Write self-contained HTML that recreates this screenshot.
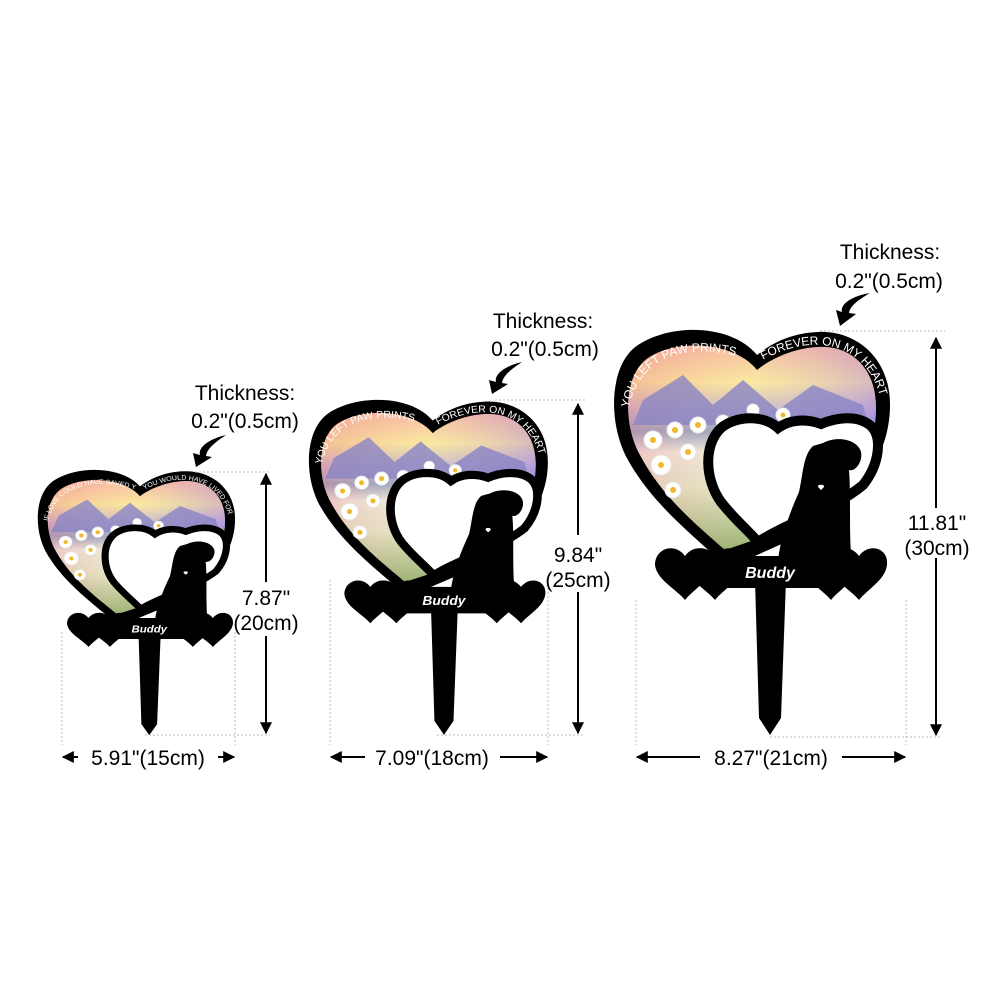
<!DOCTYPE html>
<html><head><meta charset="utf-8"><style>
html,body{margin:0;padding:0;background:#fff}
svg{display:block}
text{font-family:"Liberation Sans",sans-serif}
</style></head><body>
<svg width="1000" height="1000" viewBox="0 0 1000 1000" xmlns="http://www.w3.org/2000/svg">
<defs>
<linearGradient id="sky" x1="0" y1="0" x2="0" y2="1">
<stop offset="0" stop-color="#f4a7a0"/>
<stop offset="0.18" stop-color="#f8e59a"/>
<stop offset="0.32" stop-color="#b8a9d8"/>
<stop offset="0.42" stop-color="#6f8fcf"/>
<stop offset="0.52" stop-color="#e9f1f6"/>
<stop offset="0.7" stop-color="#d9e8d2"/>
<stop offset="1" stop-color="#6f9a5a"/>
</linearGradient>
<linearGradient id="skyh" x1="0" y1="0" x2="1" y2="0">
<stop offset="0" stop-color="#f29a8f" stop-opacity="0.5"/>
<stop offset="0.5" stop-color="#fff3b0" stop-opacity="0.3"/>
<stop offset="1" stop-color="#b48fe0" stop-opacity="0.5"/>
</linearGradient>
<marker id="ah" viewBox="0 0 10 10" refX="9" refY="5" markerWidth="6" markerHeight="6" orient="auto-start-reverse"><path d="M0,0 L10,5 L0,10 Z" fill="#000"/></marker>
<g id="stake">
<path d="M144,25 C120,-5 60,-8 25,15 C-5,35 -5,95 15,130 C40,175 80,205 115,238 L200,200 C240,170 277,130 277,75 C277,25 240,0 205,2 C180,3 160,12 144,25 Z" fill="#000"/>
<path d="M144,40 C122,12 65,8 35,28 C10,45 10,95 27,125 C48,165 80,192 112,220 L200,190 C235,160 263,125 263,78 C263,35 235,15 205,17 C183,18 160,27 144,40 Z" fill="url(#sky)"/>
<path d="M144,40 C122,12 65,8 35,28 C10,45 10,95 27,125 C48,165 80,192 112,220 L200,190 C235,160 263,125 263,78 C263,35 235,15 205,17 C183,18 160,27 144,40 Z" fill="url(#skyh)"/>
<path d="M30,70 L70,45 L100,75 L130,50 L165,80 L200,55 L250,75 L255,95 L20,95 Z" fill="#8a84c4" opacity="0.8"/>
<g fill="#fff" stroke="#e8e8e8" stroke-width="1">
<circle cx="40" cy="110" r="9"/><circle cx="62" cy="100" r="8"/><circle cx="85" cy="95" r="8"/><circle cx="110" cy="92" r="7"/><circle cx="48" cy="135" r="10"/><circle cx="75" cy="122" r="8"/><circle cx="60" cy="160" r="8"/><circle cx="140" cy="80" r="6"/><circle cx="170" cy="85" r="7"/><circle cx="100" cy="115" r="6"/>
</g>
<g fill="#f0b92c"><circle cx="40" cy="110" r="3"/><circle cx="62" cy="100" r="3"/><circle cx="85" cy="95" r="3"/><circle cx="48" cy="135" r="3"/><circle cx="75" cy="122" r="3"/><circle cx="60" cy="160" r="3"/><circle cx="170" cy="85" r="2.5"/></g>
<path d="M165,98 C150,84 122,86 108,98 C90,115 92,150 108,172 C122,190 135,200 145,212 C175,192 220,180 250,155 C266,135 270,108 258,96 C244,84 222,88 208,94 C192,88 176,90 165,98 Z" fill="#fff" stroke="#000" stroke-width="10"/>
<path d="M210,113 C225,105 245,110 248,122 C250,132 242,142 236,140 C238,165 236,195 238,225 L165,230 C168,205 178,180 186,162 C190,145 190,125 200,116 Z" fill="#000"/>
<path d="M208,160 l-3,-3 a2,2 0 0 1 3,-2 a2,2 0 0 1 3,2 Z" fill="#fff"/>
<g fill="#000">
<path d="M42,235 C42,218 62,212 72,226 C82,212 102,218 100,235 C98,250 82,258 72,270 C62,258 44,250 42,235 Z"/>
<path d="M72,235 C72,218 92,212 102,226 C112,212 132,218 130,235 C128,250 112,258 102,270 C92,258 74,250 72,235 Z"/>
<path d="M100,226 L230,226 L230,258 L100,258 Z"/>
<path d="M188,235 C188,218 208,212 218,226 C228,212 248,218 246,235 C244,250 228,258 218,270 C208,258 190,250 188,235 Z"/>
<path d="M216,235 C216,218 236,212 246,226 C256,212 276,218 274,235 C272,250 256,258 246,270 C236,258 218,250 216,235 Z"/>
<path d="M142,250 L173,250 L168,388 L157,405 L146,388 Z"/>
</g>
<text x="157" y="248" text-anchor="middle" fill="#fff" font-size="16" font-weight="bold" font-style="italic">Buddy</text>
</g>
<path id="tpl" d="M16,78 C25,30 70,8 138,30"/>
<path id="tpr" d="M150,30 C205,0 255,15 268,70"/>
</defs>

<g transform="translate(613,330)">
<use href="#stake"/>
<text fill="#fff" font-family="Liberation Serif,serif" font-size="12"><textPath href="#tpl">YOU LEFT PAW PRINTS</textPath></text>
<text fill="#fff" font-family="Liberation Serif,serif" font-size="12"><textPath href="#tpr">FOREVER ON MY HEART</textPath></text>
</g>
<g transform="translate(308,400) scale(0.866,0.827)">
<use href="#stake"/>
<text fill="#fff" font-family="Liberation Serif,serif" font-size="12"><textPath href="#tpl">YOU LEFT PAW PRINTS</textPath></text>
<text fill="#fff" font-family="Liberation Serif,serif" font-size="12"><textPath href="#tpr">FOREVER ON MY HEART</textPath></text>
</g>
<g transform="translate(37,470) scale(0.715,0.655)">
<use href="#stake"/>
<text fill="#fff" font-family="Liberation Serif,serif" font-size="10"><textPath href="#tpl">IF LOVE COULD HAVE SAVED YOU</textPath></text>
<text fill="#fff" font-family="Liberation Serif,serif" font-size="10"><textPath href="#tpr">YOU WOULD HAVE LIVED FOREVER</textPath></text>
</g>

<g stroke="#bbb" stroke-width="1" stroke-dasharray="2,2" fill="none">
<line x1="820" y1="331" x2="945" y2="331"/>
<line x1="636" y1="600" x2="636" y2="745"/><line x1="906" y1="600" x2="906" y2="745"/>
<line x1="770" y1="737" x2="940" y2="737"/>
<line x1="495" y1="400" x2="585" y2="400"/>
<line x1="330" y1="580" x2="330" y2="745"/><line x1="548" y1="580" x2="548" y2="745"/>
<line x1="437" y1="735" x2="585" y2="735"/>
<line x1="195" y1="472" x2="270" y2="472"/>
<line x1="62" y1="632" x2="62" y2="745"/><line x1="235" y1="632" x2="235" y2="745"/>
<line x1="145" y1="735" x2="270" y2="735"/>
</g>

<g stroke="#000" stroke-width="2">
<line x1="936" y1="338" x2="936" y2="508" marker-start="url(#ah)"/>
<line x1="936" y1="558" x2="936" y2="735" marker-end="url(#ah)"/>
<line x1="578" y1="404" x2="578" y2="535" marker-start="url(#ah)"/>
<line x1="578" y1="592" x2="578" y2="733" marker-end="url(#ah)"/>
<line x1="266" y1="474" x2="266" y2="582" marker-start="url(#ah)"/>
<line x1="266" y1="636" x2="266" y2="733" marker-end="url(#ah)"/>
<line x1="637" y1="757" x2="700" y2="757" marker-start="url(#ah)"/>
<line x1="842" y1="757" x2="905" y2="757" marker-end="url(#ah)"/>
<line x1="331" y1="757" x2="365" y2="757" marker-start="url(#ah)"/>
<line x1="500" y1="757" x2="547" y2="757" marker-end="url(#ah)"/>
<line x1="63" y1="757" x2="78" y2="757" marker-start="url(#ah)"/>
<line x1="218" y1="757" x2="234" y2="757" marker-end="url(#ah)"/>
</g>

<g font-size="21" fill="#000" text-anchor="middle">
<text x="890" y="259">Thickness:</text>
<text x="889" y="288">0.2"(0.5cm)</text>
<text x="543" y="328">Thickness:</text>
<text x="545" y="356">0.2"(0.5cm)</text>
<text x="245" y="400">Thickness:</text>
<text x="245" y="428">0.2"(0.5cm)</text>
<text x="937" y="530">11.81"</text>
<text x="937" y="555">(30cm)</text>
<text x="578" y="562">9.84"</text>
<text x="578" y="587">(25cm)</text>
<text x="266" y="605">7.87"</text>
<text x="266" y="630">(20cm)</text>
<text x="771" y="765">8.27"(21cm)</text>
<text x="432" y="765">7.09"(18cm)</text>
<text x="148" y="765">5.91"(15cm)</text>
</g>

<g fill="#000">
<path d="M870,293 C852,296 840,304 842,312 L836,310 L840,326 L856,314 L849,313 C850,306 858,300 870,293 Z"/>
<path d="M522,362 C505,366 494,374 496,382 L489,380 L492,394 L508,384 L502,383 C503,376 510,370 522,362 Z"/>
<path d="M226,435 C209,439 198,447 200,455 L193,453 L196,467 L212,457 L206,456 C207,449 214,443 226,435 Z"/>
</g>
</svg>
</body></html>
